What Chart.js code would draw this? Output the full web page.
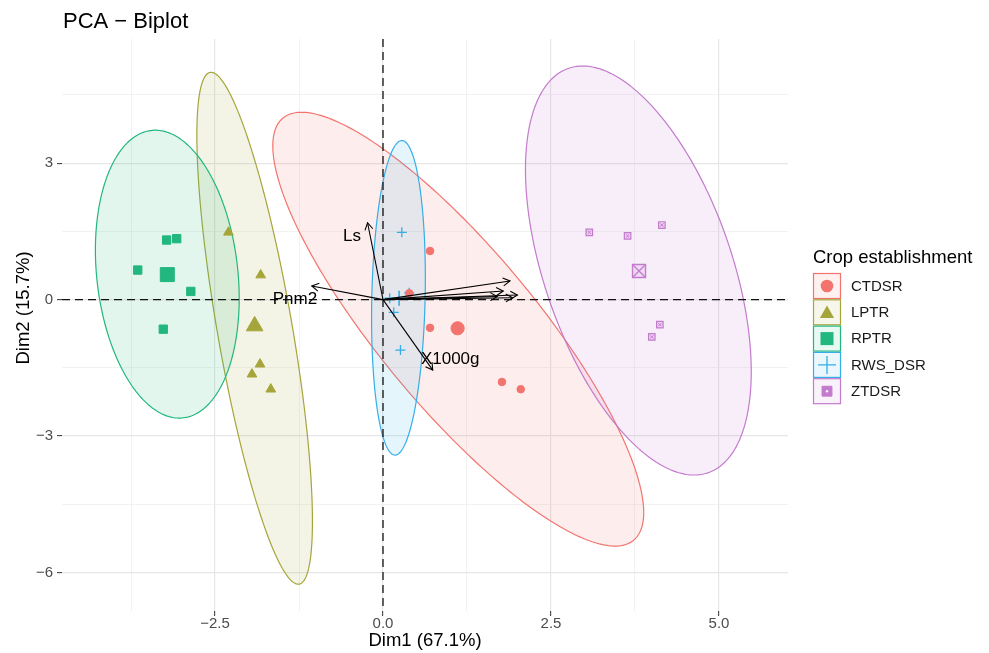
<!DOCTYPE html>
<html>
<head>
<meta charset="utf-8">
<script src="https://cdn.jsdelivr.net/npm/chart.js"></script>
<style>
html,body{margin:0;padding:0;background:#ffffff;}
canvas{display:block;}
</style>
</head>
<body>
<canvas id="c" width="989" height="653"></canvas>
<script>
// ---------------- data ----------------
const groupNames = ['CTDSR', 'LPTR', 'RPTR', 'RWS_DSR', 'ZTDSR'];
const groupColours = ['#F3746E', '#A6A53B', '#22B77F', '#35AEE8', '#C47BCD'];

const ctdsrDim1 = [0.70, 0.70, 1.77, 2.05, 0.39];
const ctdsrDim2 = [1.07, -0.62, -1.81, -1.97, 0.14];
const lptrDim1 = [-2.30, -1.82, -1.83, -1.95, -1.67];
const lptrDim2 = [1.48, 0.54, -1.42, -1.64, -1.97];
const rptrDim1 = [-3.22, -3.07, -3.65, -2.86, -3.27];
const rptrDim2 = [1.31, 1.34, 0.65, 0.18, -0.65];
const rwsDim1 = [0.28, 0.16, 0.26, 0.39, 0.10];
const rwsDim2 = [1.48, -0.28, -1.11, 0.15, 0.03];
const ztdsrDim1 = [3.07, 3.64, 4.15, 4.12, 4.00];
const ztdsrDim2 = [1.48, 1.40, 1.64, -0.55, -0.82];

// group mean points (large markers)
const centroidDim1 = [1.11, -1.91, -3.21, 0.24, 3.81];
const centroidDim2 = [-0.63, -0.58, 0.55, 0.03, 0.63];

// concentration ellipses: centre and two conjugate semi-axes, in Dim units
const ellipseCentreDim1 = [1.12, -1.91, -3.21, 0.23, 3.80];
const ellipseCentreDim2 = [-0.65, -0.63, 0.56, 0.04, 0.64];
const ellipseAxisADim1 = [2.76, 0.86, 1.07, 0.40, 1.68];
const ellipseAxisADim2 = [-4.03, -4.24, -0.53, 0.44, -2.22];
const ellipseAxisBDim1 = [0, 0, 0, 0, 0];
const ellipseAxisBDim2 = [2.55, 3.70, 3.12, 3.43, 3.91];

// variable arrows
const variableNames = ['Ls', 'Pnm2', 'X1000g', '', '', '', '', ''];
const variableDim1 = [-0.23, -1.06, 0.74, 1.89, 2.00, 1.79, 1.93, 1.70];
const variableDim2 = [1.69, 0.30, -1.55, 0.41, 0.10, 0.19, 0.04, 0.07];
const variableLabelDim1 = [-0.46, -1.31, 1.00, null, null, null, null, null];
const variableLabelDim2 = [1.40, 0.01, -1.31, null, null, null, null, null];

// axes
const xTickValues = [-3.75, -2.5, -1.25, 0, 1.25, 2.5, 3.75, 5];
const xTickLabels = ['', '\u22122.5', '', '0.0', '', '2.5', '', '5.0'];
const yTickValues = [-6, -4.5, -3, -1.5, 0, 1.5, 3, 4.5];
const yTickLabels = ['\u22126', '', '\u22123', '', '0', '', '3', ''];
const xRange = [-4.777, 6.027];
const yRange = [-6.846, 5.73];

const chartTitle = 'PCA \u2212 Biplot';
const xTitle = 'Dim1 (67.1%)';
const yTitle = 'Dim2 (15.7%)';
const legendTitle = 'Crop establishment';

// ---------------- helpers ----------------
function pts(xs, ys) { return xs.map((v, i) => ({x: v, y: ys[i]})); }
function rgba(hex, a) {
  const n = parseInt(hex.slice(1), 16);
  return `rgba(${(n >> 16) & 255},${(n >> 8) & 255},${n & 255},${a})`;
}
const FONT = "'Liberation Sans', Arial, Helvetica, sans-serif";
Chart.defaults.font.family = FONT;

const groupX = [ctdsrDim1, lptrDim1, rptrDim1, rwsDim1, ztdsrDim1];
const groupY = [ctdsrDim2, lptrDim2, rptrDim2, rwsDim2, ztdsrDim2];
const groupStyle = ['circle', 'triangle', 'rect', 'cross', 'rect'];
const smallRadius = [3.8, 5.6, 5.9, 5, 4.6];
const bigRadius = [6.6, 9.6, 9.9, 7.5, 9.2];

const datasets = [];
// arrows (shafts) on top
variableDim1.forEach((v, i) => {
  datasets.push({
    type: 'scatter', showLine: true, order: 0,
    data: [{x: 0, y: 0}, {x: v, y: variableDim2[i]}],
    borderColor: '#000000', borderWidth: 1.1, pointRadius: 0, fill: false
  });
});
for (let g = 0; g < 5; g++) {
  const c = groupColours[g];
  const isZ = g === 4, isCross = g === 3;
  datasets.push({
    type: 'scatter', order: 2, label: groupNames[g],
    data: pts(groupX[g], groupY[g]),
    pointStyle: groupStyle[g], pointRadius: smallRadius[g],
    backgroundColor: isZ ? rgba(c, 0.25) : c,
    borderColor: c, borderWidth: isCross ? 1.3 : (isZ ? 1.2 : 1)
  });
  datasets.push({
    type: 'scatter', order: 2, label: groupNames[g] + ' mean',
    data: [{x: centroidDim1[g], y: centroidDim2[g]}],
    pointStyle: groupStyle[g], pointRadius: bigRadius[g],
    backgroundColor: isZ ? rgba(c, 0.15) : c,
    borderColor: c, borderWidth: isCross ? 1.6 : (isZ ? 1.4 : 1)
  });
  if (isZ) {
    datasets.push({
      type: 'scatter', order: 1, data: pts(groupX[g], groupY[g]),
      pointStyle: 'crossRot', pointRadius: 2.4, borderColor: c, borderWidth: 1
    });
    datasets.push({
      type: 'scatter', order: 1, data: [{x: centroidDim1[g], y: centroidDim2[g]}],
      pointStyle: 'crossRot', pointRadius: bigRadius[g], borderColor: c, borderWidth: 1.3
    });
  }
}

function drawMarker(ctx, style, x, y, r, colour, fillColour, lw) {
  ctx.save();
  ctx.fillStyle = fillColour; ctx.strokeStyle = colour; ctx.lineWidth = lw;
  ctx.beginPath();
  if (style === 'circle') { ctx.arc(x, y, r, 0, Math.PI * 2); ctx.fill(); }
  else if (style === 'triangle') {
    ctx.moveTo(x, y - r); ctx.lineTo(x + r * 0.866, y + r / 2); ctx.lineTo(x - r * 0.866, y + r / 2);
    ctx.closePath(); ctx.fill();
  } else if (style === 'rect') { const s = r * Math.SQRT1_2; ctx.rect(x - s, y - s, 2 * s, 2 * s); ctx.fill(); }
  else if (style === 'cross') { ctx.moveTo(x - r, y); ctx.lineTo(x + r, y); ctx.moveTo(x, y - r); ctx.lineTo(x, y + r); ctx.stroke(); }
  else if (style === 'boxcross') {
    const s = r * Math.SQRT1_2; ctx.rect(x - s, y - s, 2 * s, 2 * s); ctx.fill(); ctx.stroke();
    ctx.beginPath(); ctx.arc(x, y, 1.2, 0, Math.PI * 2); ctx.fillStyle = '#ffffff'; ctx.fill();
  }
  ctx.restore();
}

const biplotPlugin = {
  id: 'biplot',
  beforeDatasetsDraw(chart) {
    const {ctx, chartArea: a, scales: {x, y}} = chart;
    ctx.save();
    ctx.beginPath(); ctx.rect(a.left, a.top, a.right - a.left, a.bottom - a.top); ctx.clip();
    for (let g = 0; g < 5; g++) {
      ctx.beginPath();
      for (let k = 0; k <= 240; k++) {
        const t = k / 240 * Math.PI * 2;
        const dx = ellipseCentreDim1[g] + ellipseAxisADim1[g] * Math.cos(t) + ellipseAxisBDim1[g] * Math.sin(t);
        const dy = ellipseCentreDim2[g] + ellipseAxisADim2[g] * Math.cos(t) + ellipseAxisBDim2[g] * Math.sin(t);
        const px = x.getPixelForValue(dx), py = y.getPixelForValue(dy);
        if (k === 0) ctx.moveTo(px, py); else ctx.lineTo(px, py);
      }
      ctx.closePath();
      ctx.fillStyle = rgba(groupColours[g], 0.13);
      ctx.fill();
      ctx.strokeStyle = groupColours[g];
      ctx.lineWidth = 1.2;
      ctx.stroke();
    }
    // dashed reference lines at 0
    const x0 = x.getPixelForValue(0), y0 = y.getPixelForValue(0);
    ctx.setLineDash([8, 5]);
    ctx.strokeStyle = '#111111';
    ctx.lineWidth = 1.3;
    ctx.beginPath(); ctx.moveTo(a.left, y0); ctx.lineTo(a.right, y0); ctx.stroke();
    ctx.beginPath(); ctx.moveTo(x0, a.top); ctx.lineTo(x0, a.bottom); ctx.stroke();
    ctx.restore();
  },
  afterDatasetsDraw(chart) {
    const {ctx, scales: {x, y}} = chart;
    ctx.save();
    const ox = x.getPixelForValue(0), oy = y.getPixelForValue(0);
    ctx.strokeStyle = '#000000'; ctx.lineWidth = 1.1;
    variableDim1.forEach((v, i) => {
      const tx = x.getPixelForValue(v), ty = y.getPixelForValue(variableDim2[i]);
      const ang = Math.atan2(ty - oy, tx - ox);
      const L = 8, w = Math.PI / 6;
      ctx.beginPath();
      ctx.moveTo(tx - L * Math.cos(ang - w), ty - L * Math.sin(ang - w));
      ctx.lineTo(tx, ty);
      ctx.lineTo(tx - L * Math.cos(ang + w), ty - L * Math.sin(ang + w));
      ctx.stroke();
    });
    ctx.fillStyle = '#000000';
    ctx.font = `17px ${FONT}`;
    ctx.textAlign = 'center'; ctx.textBaseline = 'middle';
    variableNames.forEach((n, i) => {
      if (!n) return;
      ctx.fillText(n, x.getPixelForValue(variableLabelDim1[i]), y.getPixelForValue(variableLabelDim2[i]));
    });
    ctx.restore();
  },
  afterDraw(chart) {
    const {ctx, chartArea: a} = chart;
    ctx.save();
    // title
    ctx.fillStyle = '#000000';
    ctx.font = `22px ${FONT}`;
    ctx.textAlign = 'left'; ctx.textBaseline = 'alphabetic';
    ctx.fillText(chartTitle, 63, 28);
    // axis titles
    ctx.font = `18.5px ${FONT}`;
    ctx.textAlign = 'center'; ctx.textBaseline = 'middle';
    ctx.fillText(xTitle, (a.left + a.right) / 2, 641);
    ctx.save();
    ctx.translate(24, 308);
    ctx.rotate(-Math.PI / 2);
    ctx.fillText(yTitle, 0, 0);
    ctx.restore();
    // legend
    ctx.textAlign = 'left'; ctx.textBaseline = 'alphabetic';
    ctx.font = `18.5px ${FONT}`;
    ctx.fillText(legendTitle, 813, 263);
    const legendStyles = ['circle', 'triangle', 'rect', 'cross', 'boxcross'];
    const legendRadius = [6.3, 8.2, 9.2, 9, 7];
    for (let g = 0; g < 5; g++) {
      const bx = 813.5, by = 273.5 + g * 26.3, bw = 27, bh = 25;
      ctx.fillStyle = rgba(groupColours[g], 0.10);
      ctx.fillRect(bx, by, bw, bh);
      ctx.strokeStyle = groupColours[g]; ctx.lineWidth = 1.2;
      ctx.strokeRect(bx, by, bw, bh);
      const cx = bx + bw / 2, cy = by + bh / 2;
      const c = groupColours[g];
      drawMarker(ctx, legendStyles[g], cx, g === 1 ? cy + 1.5 : cy, legendRadius[g], c, c, g === 3 ? 1.3 : 1);
      ctx.fillStyle = '#1a1a1a';
      ctx.font = `15px ${FONT}`;
      ctx.textBaseline = 'middle';
      ctx.fillText(groupNames[g], 851, cy + 0.5);
      ctx.textBaseline = 'alphabetic';
    }
    ctx.restore();
  }
};

function isMinor(labels, ctx) { return !labels[ctx.index]; }

new Chart(document.getElementById('c'), {
  type: 'scatter',
  data: {datasets},
  options: {
    responsive: false,
    animation: false,
    events: [],
    layout: {padding: {left: 0, right: 201, top: 39, bottom: 0}},
    plugins: {legend: {display: false}, title: {display: false}, tooltip: {enabled: false}},
    scales: {
      x: {
        type: 'linear', min: xRange[0], max: xRange[1],
        afterBuildTicks: (s) => { s.ticks = xTickValues.map(v => ({value: v})); },
        afterFit: (s) => { s.height = 42; },
        border: {display: false},
        grid: {
          color: (c) => isMinor(xTickLabels, c) ? '#EFEFEF' : '#E6E6E6',
          lineWidth: (c) => isMinor(xTickLabels, c) ? 0.8 : 1.2,
          tickColor: (c) => isMinor(xTickLabels, c) ? 'rgba(0,0,0,0)' : '#444444',
          tickLength: 5, tickWidth: 1.1, drawTicks: true
        },
        ticks: {
          autoSkip: false, maxRotation: 0, padding: -1, color: '#4D4D4D',
          font: {size: 15},
          callback: (v, i) => xTickLabels[i]
        }
      },
      y: {
        type: 'linear', min: yRange[0], max: yRange[1],
        afterBuildTicks: (s) => { s.ticks = yTickValues.map(v => ({value: v})); },
        afterFit: (s) => { s.width = 62; },
        border: {display: false},
        grid: {
          color: (c) => isMinor(yTickLabels, c) ? '#EFEFEF' : '#E6E6E6',
          lineWidth: (c) => isMinor(yTickLabels, c) ? 0.8 : 1.2,
          tickColor: (c) => isMinor(yTickLabels, c) ? 'rgba(0,0,0,0)' : '#444444',
          tickLength: 5, tickWidth: 1.1, drawTicks: true
        },
        ticks: {
          autoSkip: false, padding: 4, color: '#4D4D4D',
          font: {size: 15},
          callback: (v, i) => yTickLabels[i]
        }
      }
    }
  },
  plugins: [biplotPlugin]
});
</script>
</body>
</html>
